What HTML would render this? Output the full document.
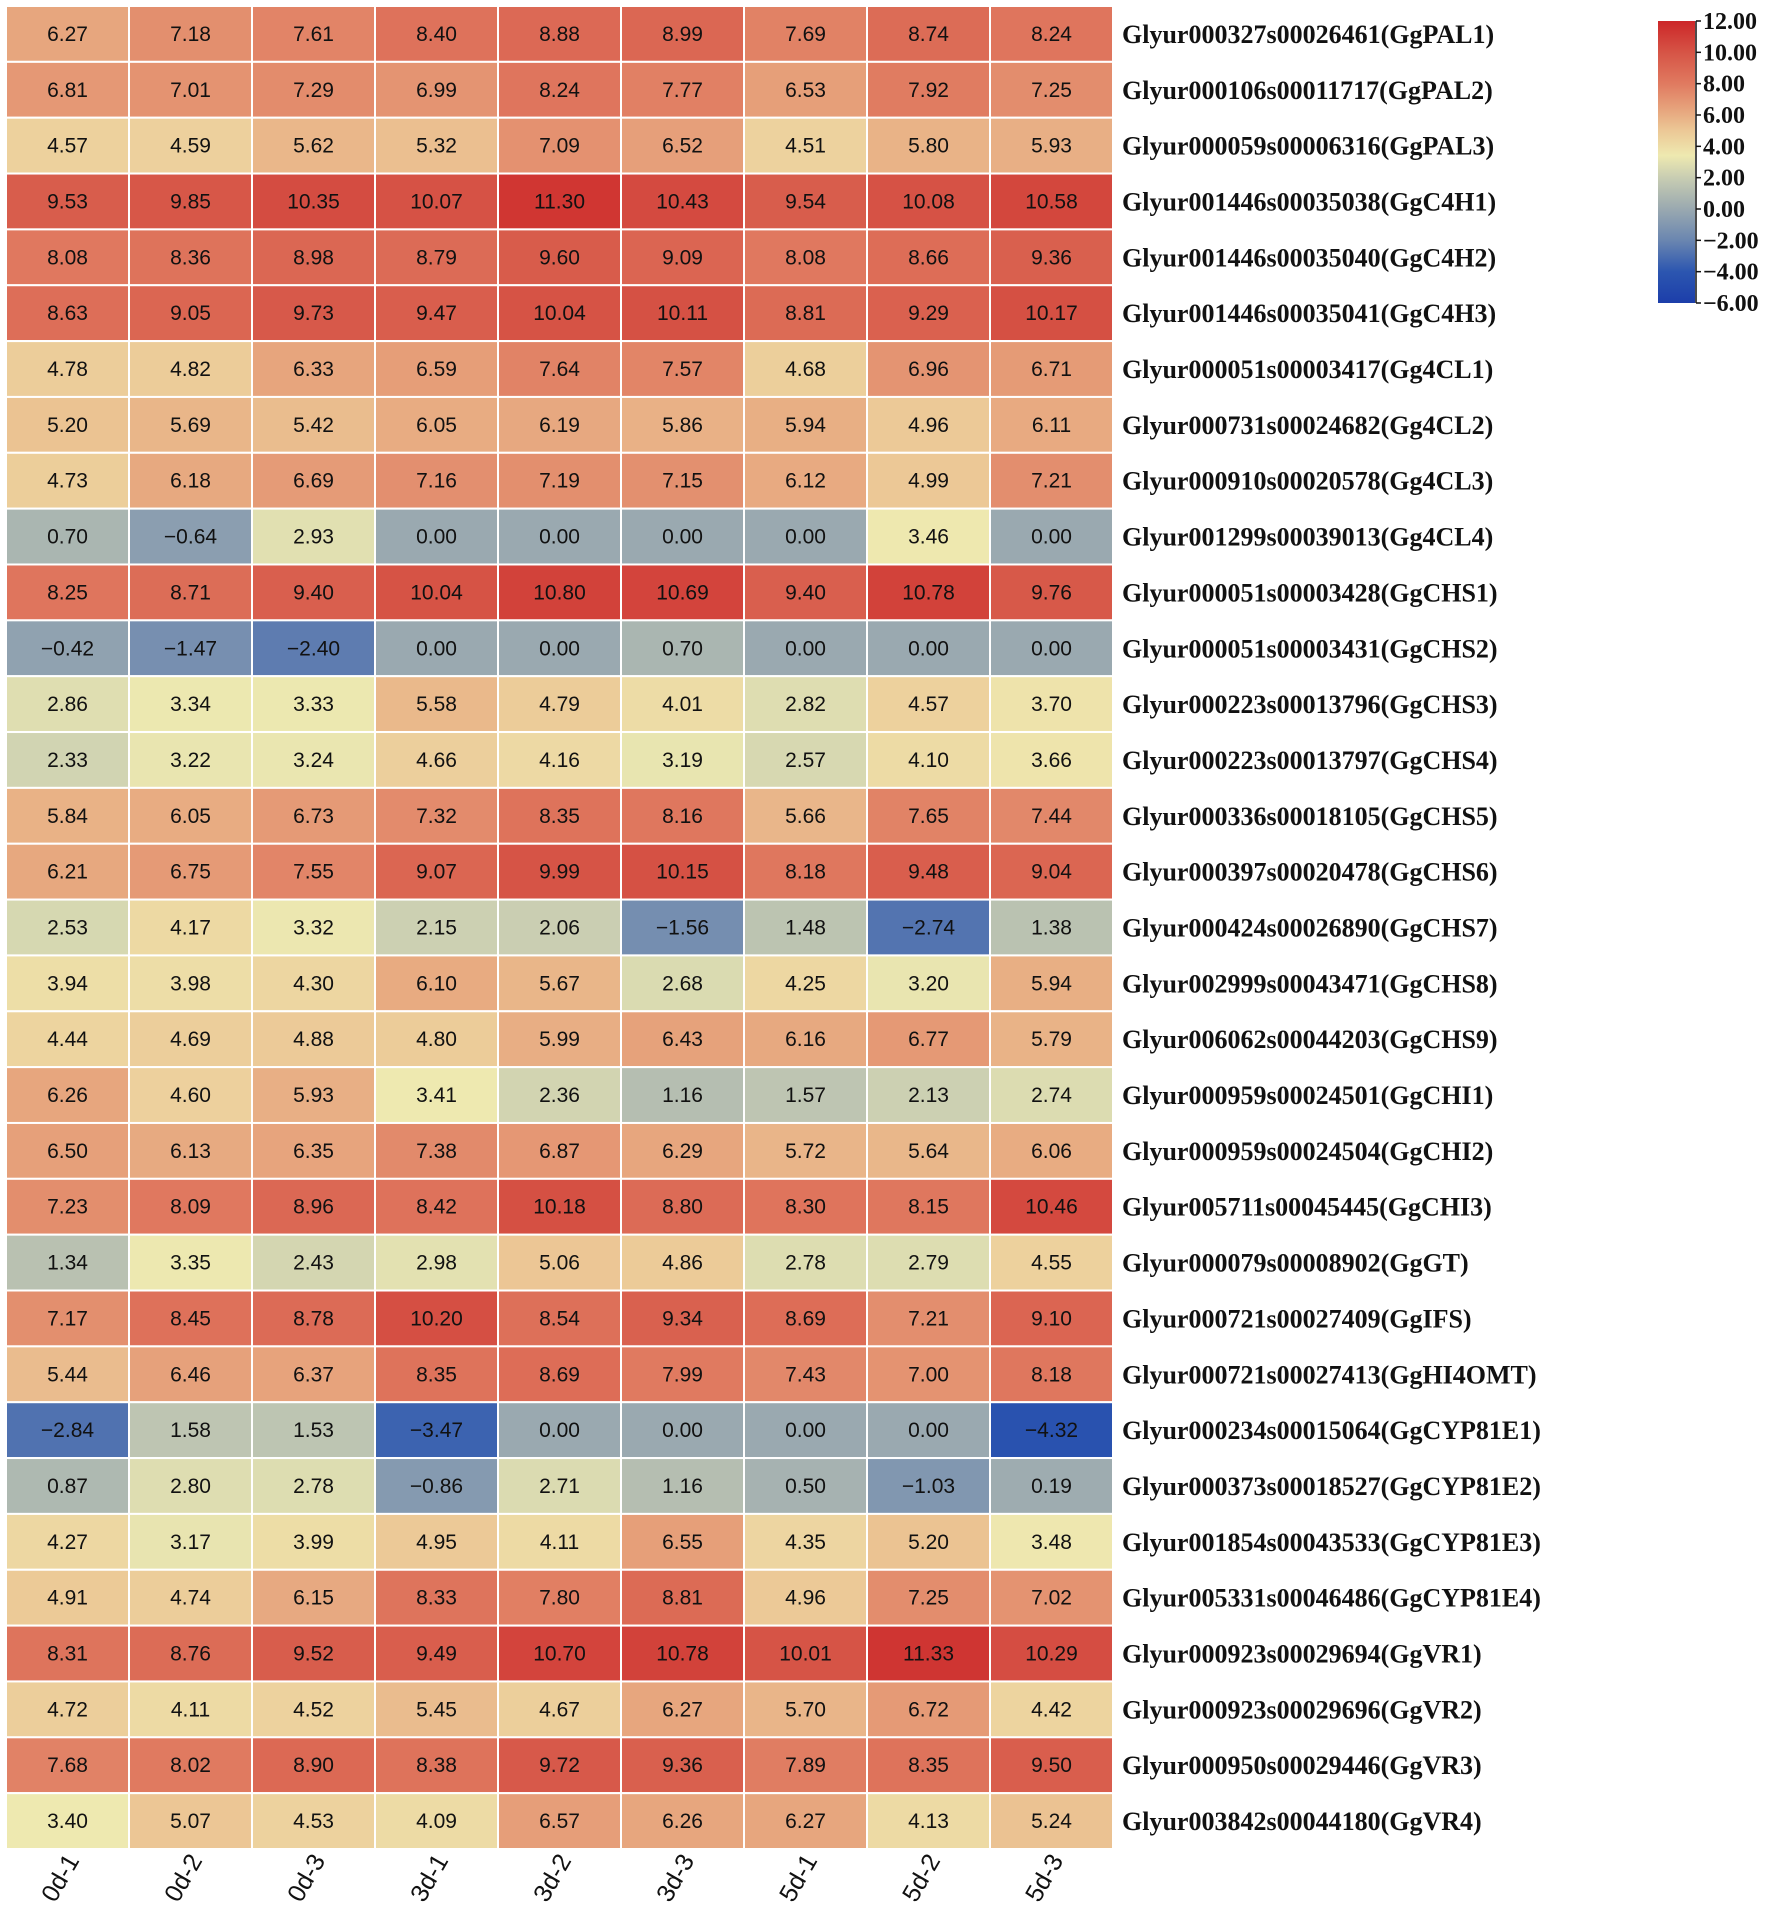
<!DOCTYPE html>
<html><head><meta charset="utf-8"><style>
html,body{margin:0;padding:0;background:#fff;width:1773px;height:1915px;overflow:hidden}
svg{display:block}
</style></head><body>
<svg id="chart" width="1773" height="1915" xmlns="http://www.w3.org/2000/svg"></svg>
<script>
const samples=["0d-1","0d-2","0d-3","3d-1","3d-2","3d-3","5d-1","5d-2","5d-3"];
const genes=["Glyur000327s00026461(GgPAL1)","Glyur000106s00011717(GgPAL2)","Glyur000059s00006316(GgPAL3)","Glyur001446s00035038(GgC4H1)","Glyur001446s00035040(GgC4H2)","Glyur001446s00035041(GgC4H3)","Glyur000051s00003417(Gg4CL1)","Glyur000731s00024682(Gg4CL2)","Glyur000910s00020578(Gg4CL3)","Glyur001299s00039013(Gg4CL4)","Glyur000051s00003428(GgCHS1)","Glyur000051s00003431(GgCHS2)","Glyur000223s00013796(GgCHS3)","Glyur000223s00013797(GgCHS4)","Glyur000336s00018105(GgCHS5)","Glyur000397s00020478(GgCHS6)","Glyur000424s00026890(GgCHS7)","Glyur002999s00043471(GgCHS8)","Glyur006062s00044203(GgCHS9)","Glyur000959s00024501(GgCHI1)","Glyur000959s00024504(GgCHI2)","Glyur005711s00045445(GgCHI3)","Glyur000079s00008902(GgGT)","Glyur000721s00027409(GgIFS)","Glyur000721s00027413(GgHI4OMT)","Glyur000234s00015064(GgCYP81E1)","Glyur000373s00018527(GgCYP81E2)","Glyur001854s00043533(GgCYP81E3)","Glyur005331s00046486(GgCYP81E4)","Glyur000923s00029694(GgVR1)","Glyur000923s00029696(GgVR2)","Glyur000950s00029446(GgVR3)","Glyur003842s00044180(GgVR4)"];
const values=[
[6.27,7.18,7.61,8.40,8.88,8.99,7.69,8.74,8.24],
[6.81,7.01,7.29,6.99,8.24,7.77,6.53,7.92,7.25],
[4.57,4.59,5.62,5.32,7.09,6.52,4.51,5.80,5.93],
[9.53,9.85,10.35,10.07,11.30,10.43,9.54,10.08,10.58],
[8.08,8.36,8.98,8.79,9.60,9.09,8.08,8.66,9.36],
[8.63,9.05,9.73,9.47,10.04,10.11,8.81,9.29,10.17],
[4.78,4.82,6.33,6.59,7.64,7.57,4.68,6.96,6.71],
[5.20,5.69,5.42,6.05,6.19,5.86,5.94,4.96,6.11],
[4.73,6.18,6.69,7.16,7.19,7.15,6.12,4.99,7.21],
[0.70,-0.64,2.93,0.00,0.00,0.00,0.00,3.46,0.00],
[8.25,8.71,9.40,10.04,10.80,10.69,9.40,10.78,9.76],
[-0.42,-1.47,-2.40,0.00,0.00,0.70,0.00,0.00,0.00],
[2.86,3.34,3.33,5.58,4.79,4.01,2.82,4.57,3.70],
[2.33,3.22,3.24,4.66,4.16,3.19,2.57,4.10,3.66],
[5.84,6.05,6.73,7.32,8.35,8.16,5.66,7.65,7.44],
[6.21,6.75,7.55,9.07,9.99,10.15,8.18,9.48,9.04],
[2.53,4.17,3.32,2.15,2.06,-1.56,1.48,-2.74,1.38],
[3.94,3.98,4.30,6.10,5.67,2.68,4.25,3.20,5.94],
[4.44,4.69,4.88,4.80,5.99,6.43,6.16,6.77,5.79],
[6.26,4.60,5.93,3.41,2.36,1.16,1.57,2.13,2.74],
[6.50,6.13,6.35,7.38,6.87,6.29,5.72,5.64,6.06],
[7.23,8.09,8.96,8.42,10.18,8.80,8.30,8.15,10.46],
[1.34,3.35,2.43,2.98,5.06,4.86,2.78,2.79,4.55],
[7.17,8.45,8.78,10.20,8.54,9.34,8.69,7.21,9.10],
[5.44,6.46,6.37,8.35,8.69,7.99,7.43,7.00,8.18],
[-2.84,1.58,1.53,-3.47,0.00,0.00,0.00,0.00,-4.32],
[0.87,2.80,2.78,-0.86,2.71,1.16,0.50,-1.03,0.19],
[4.27,3.17,3.99,4.95,4.11,6.55,4.35,5.20,3.48],
[4.91,4.74,6.15,8.33,7.80,8.81,4.96,7.25,7.02],
[8.31,8.76,9.52,9.49,10.70,10.78,10.01,11.33,10.29],
[4.72,4.11,4.52,5.45,4.67,6.27,5.70,6.72,4.42],
[7.68,8.02,8.90,8.38,9.72,9.36,7.89,8.35,9.50],
[3.40,5.07,4.53,4.09,6.57,6.26,6.27,4.13,5.24]];
const legendTicks=[12,10,8,6,4,2,0,-2,-4,-6];
const cmapStops=[[-6,[28,62,170]],[-4,[44,86,176]],[-2,[106,134,176]],[0,[154,169,176]],[2,[200,205,178]],[3.4,[238,233,176]],[5,[236,200,150]],[6.5,[230,160,122]],[8,[224,122,96]],[10,[214,84,70]],[12,[204,38,40]]];
function color(v){
  if(v<=cmapStops[0][0])return 'rgb('+cmapStops[0][1]+')';
  for(let i=1;i<cmapStops.length;i++){
    if(v<=cmapStops[i][0]){const a=cmapStops[i-1],b=cmapStops[i];const t=(v-a[0])/(b[0]-a[0]);
      return 'rgb('+a[1].map((c,k)=>Math.round(c+(b[1][k]-c)*t)).join(',')+')';}
  }
  return 'rgb('+cmapStops[cmapStops.length-1][1]+')';
}
const NS="http://www.w3.org/2000/svg";
const svg=document.getElementById('chart');
const X0=6,Y0=6,CW=123,CH=(1849-6)/33;
const xPos=i=>X0+i*CW, yPos=j=>Y0+j*CH;
function mk(tag,attrs,parent){const e=document.createElementNS(NS,tag);for(const k in attrs)e.setAttribute(k,attrs[k]);(parent||svg).appendChild(e);return e;}
const grid=mk('g',{});


values.forEach((row,j)=>{row.forEach((v,i)=>{
  const r=mk('rect',{x:xPos(i),y:yPos(j),width:CW,height:CH,fill:color(v),stroke:'#fff','stroke-width':2},grid);
  
  
  const t=mk('text',{x:xPos(i)+CW/2,y:yPos(j)+CH/2+7,'text-anchor':'middle','font-family':'Liberation Sans, sans-serif','font-size':21,fill:'#111'},grid);
  t.textContent=(v<0?'\u2212'+Math.abs(v).toFixed(2):v.toFixed(2));
  
  
});});
genes.forEach((g,j)=>{
  const t=mk('text',{x:1122,y:yPos(j)+CH/2+9,'font-family':'Liberation Serif, serif','font-weight':'bold','font-size':26,fill:'#111'});
  t.textContent=g;
  
  
});
samples.forEach((s,i)=>{
  const cx=xPos(i)+CW/2, cy=1882;
  const t=mk('text',{x:cx,y:cy,'text-anchor':'middle','font-family':'Liberation Sans, sans-serif','font-size':25,fill:'#111',transform:'rotate(-60 '+cx+' '+cy+')'});
  t.textContent=s;
  
  
});
const defs=mk('defs',{});
const lg=mk('linearGradient',{id:'lg',x1:0,y1:1,x2:0,y2:0},defs);
cmapStops.forEach(s=>{mk('stop',{offset:((s[0]+6)/18),'stop-color':'rgb('+s[1]+')'},lg);});
const LX=1658,LT=21,LB=303,LW=37;
const ly=v=>LB-(v+6)/18*(LB-LT);
const leg=mk('g',{});


mk('rect',{x:LX,y:LT,width:LW,height:LB-LT,fill:'url(#lg)'},leg);
mk('line',{x1:LX+LW+1,y1:LT,x2:LX+LW+1,y2:LB,stroke:'#111','stroke-width':1.5},leg);
legendTicks.forEach(v=>{
  mk('line',{x1:LX+LW+1,y1:ly(v),x2:LX+LW+6,y2:ly(v),stroke:'#111','stroke-width':1.5},leg);
  const t=mk('text',{x:LX+LW+8,y:ly(v)+8,'font-family':'Liberation Serif, serif','font-weight':'bold','font-size':24,fill:'#111'},leg);
  t.textContent=(v<0?'\u2212'+Math.abs(v).toFixed(2):v.toFixed(2));
  
  
});
</script>
</body></html>
